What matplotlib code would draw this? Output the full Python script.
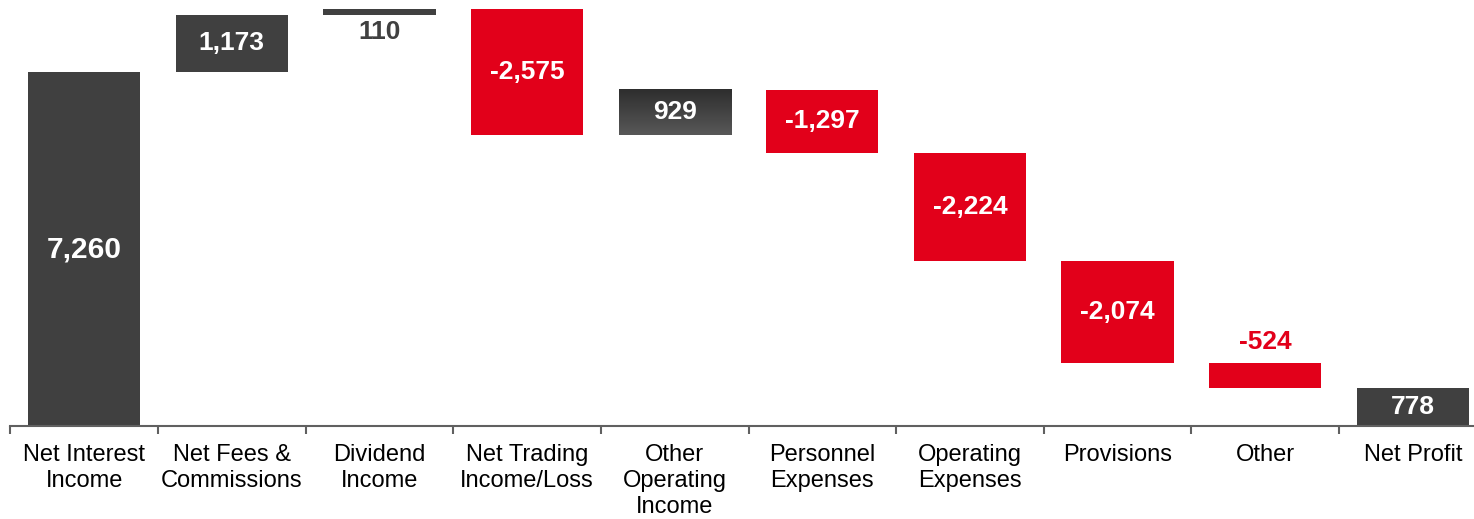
import numpy as np
import matplotlib
matplotlib.use("Agg")
from matplotlib import pyplot as plt

# data
categories = ["Net Interest\nIncome", "Net Fees &\nCommissions", "Dividend\nIncome",
              "Net Trading\nIncome/Loss", "Other\nOperating\nIncome", "Personnel\nExpenses",
              "Operating\nExpenses", "Provisions", "Other", "Net Profit"]
values = [7260, 1173, 110, -2575, 929, -1297, -2224, -2074, -524, 778]
is_total = [True, False, False, False, False, False, False, False, False, True]

dark = "#404040"
red = "#E2001A"

plt.rcParams['font.family'] = ['Liberation Sans', 'DejaVu Sans']

W, H = 1474, 519
fig = plt.figure(figsize=(W / 100, H / 100), dpi=100)
ax = fig.add_axes([10.4 / W, 93 / H, 1476.2 / W, 426 / H])

# waterfall bottoms
bottoms = []
running = 0
for v, tot in zip(values, is_total):
    if tot:
        bottoms.append(0)
        running = v
    else:
        if v >= 0:
            bottoms.append(running)
        else:
            bottoms.append(running + v)
        running += v
heights = [abs(v) for v in values]
x = np.arange(len(values))
bw = 0.76

colors = []
for v, tot in zip(values, is_total):
    colors.append(dark if (tot or v >= 0) else red)

bars = ax.bar(x, heights, bw, bottom=bottoms, color=colors, zorder=2)

# gradient on the "other operating income" bar (dark top, lighter bottom)
i = 4
grad = np.linspace(0, 1, 100).reshape(-1, 1)
cmap = matplotlib.colors.LinearSegmentedColormap.from_list("g", ["#585858", "#2e2e2e"])
ax.imshow(grad, cmap=cmap, aspect="auto", zorder=3,
          extent=[x[i] - bw / 2, x[i] + bw / 2, bottoms[i] + heights[i], bottoms[i]])

ax.set_xlim(-0.5, len(values) - 0.5)
ax.set_ylim(0, 8737)

# value labels
fs = 19
for k, (v, b, h) in enumerate(zip(values, bottoms, heights)):
    txt = "{:,}".format(v)
    if k == 0:
        ax.text(x[k], b + h / 2, txt, ha="center", va="center", color="white",
                fontsize=21.5, fontweight="bold", zorder=4)
    elif h < 400:
        ax.text(x[k], b - 360, txt, ha="center", va="center", color=dark,
                fontsize=fs, fontweight="bold", zorder=4)
    elif h < 600:
        ax.text(x[k], b + h + 420, txt, ha="center", va="center", color=red,
                fontsize=fs, fontweight="bold", zorder=4)
    else:
        ax.text(x[k], b + h / 2, txt, ha="center", va="center", color="white",
                fontsize=fs, fontweight="bold", zorder=4)

# axes styling
for s in ["top", "right", "left"]:
    ax.spines[s].set_visible(False)
ax.spines["bottom"].set_color("#606060")
ax.spines["bottom"].set_linewidth(1.5)
ax.set_yticks([])
ax.set_xticks(np.arange(len(values) + 1) - 0.5, minor=False)
ax.set_xticklabels([])
ax.tick_params(axis="x", which="major", length=6, width=1.5, color="#606060")
ax.set_xticks(x, minor=True)
ax.set_xticklabels(categories, minor=True, fontsize=17, color="black", linespacing=1.22)
ax.tick_params(axis="x", which="minor", length=0, pad=13)

fig.savefig("out.png", dpi=100)
